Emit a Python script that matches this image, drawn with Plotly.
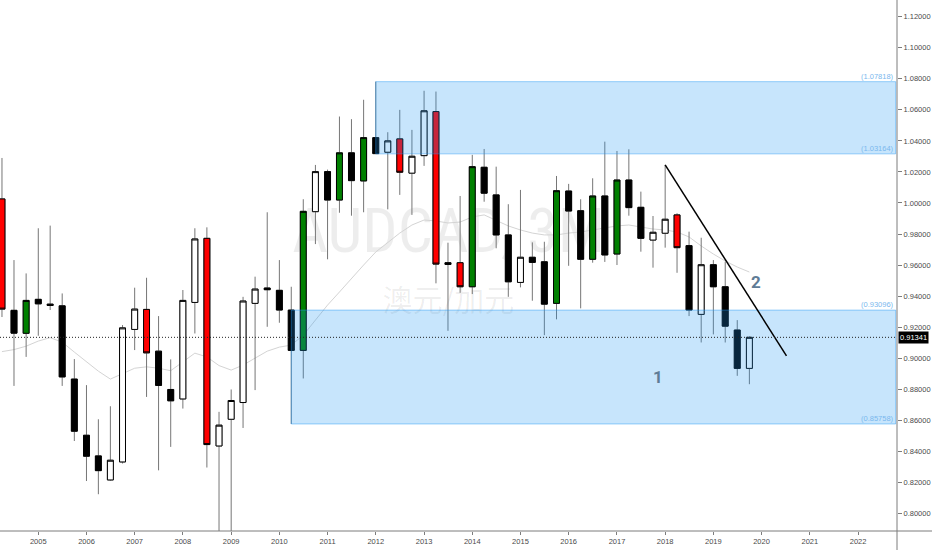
import pandas as pd
import plotly.graph_objects as go

# AUDCAD quarterly candles, 2004 Q2 .. 2019 Q4 (one row per year)
dates = pd.date_range("2004-04-01", periods=63, freq="QS")

opens = [
    1.0026, 0.9308, 0.9160,
    0.9379, 0.9348, 0.9337, 0.8865,
    0.8503, 0.8370, 0.8215, 0.8331,
    0.9185, 0.9314, 0.9045, 0.8798,
    0.8737, 0.9359, 0.9772, 0.8434,
    0.8606, 0.8714, 0.9353, 0.9452,
    0.9437, 0.93096, 0.9050, 0.9944,
    1.0202, 1.0019, 1.0323, 1.0142,
    1.0421, 1.0327, 1.0413, 1.0192,
    1.0305, 1.0589, 0.9615, 0.9615,
    0.9460, 1.0230, 1.0052, 0.9794,
    0.9488, 0.9650, 0.9621, 0.9353,
    1.0077, 0.9950, 0.9637, 1.0045,
    0.9671, 1.0148, 0.9972, 0.9761,
    0.9805, 0.9923, 0.9725, 0.9282,
    0.9602, 0.9460, 0.9181, 0.8934,
]
highs = [
    1.0290, 0.9632, 0.9546,
    0.9837, 0.9854, 0.9417, 0.8994,
    0.8826, 0.8606, 0.8690, 0.9213,
    0.9454, 0.9518, 0.9271, 0.8992,
    0.9439, 0.9837, 0.9843, 0.8654,
    0.8798, 0.9395, 0.9525, 0.9940,
    0.9632, 0.9460, 1.0024, 1.0245,
    1.0215, 1.0557, 1.0540, 1.0665,
    1.07818, 1.0456, 1.0600, 1.0471,
    1.0723, 1.0718, 0.9744, 1.0045,
    1.0310, 1.0348, 1.0234, 0.9992,
    1.0084, 0.9746, 0.9750, 1.0174,
    1.0123, 1.0024, 1.0159, 1.0395,
    1.0335, 1.0346, 1.0073, 0.9916,
    1.0245, 0.9934, 0.9815, 0.9776,
    0.9632, 0.9621, 0.9245, 0.9141,
]
lows = [
    0.9265, 0.8821, 0.9008,
    0.9144, 0.9310, 0.8821, 0.8466,
    0.8208, 0.8123, 0.8210, 0.8321,
    0.9052, 0.8750, 0.8277, 0.8428,
    0.8675, 0.9159, 0.8295, 0.7720,
    0.7800, 0.8550, 0.8794, 0.9202,
    0.9228, 0.85758, 0.8869, 0.9735,
    0.9637, 0.9937, 0.9918, 0.9940,
    1.03164, 0.9959, 1.0052, 0.9923,
    1.0239, 0.9482, 0.9176, 0.9421,
    0.9413, 1.0008, 0.9708, 0.9395,
    0.9456, 0.9370, 0.9148, 0.9250,
    0.9595, 0.9321, 0.9615, 0.9620,
    0.9600, 0.9918, 0.9686, 0.9583,
    0.9712, 0.9550, 0.9271, 0.9101,
    0.9153, 0.9101, 0.8886, 0.8832,
]
closes = [
    0.9316, 0.9161, 0.9372,
    0.9350, 0.9340, 0.8879, 0.8529,
    0.8368, 0.8275, 0.8342, 0.9195,
    0.9316, 0.9034, 0.8824, 0.8725,
    0.9372, 0.9768, 0.8443, 0.8568,
    0.8727, 0.9368, 0.9445, 0.9441,
    0.9310, 0.9050, 0.9946, 1.0202,
    1.0019, 1.0323, 1.0144, 1.0421,
    1.0318, 1.0400, 1.0198, 1.0301,
    1.0594, 0.9606, 0.9604, 0.9460,
    1.0234, 1.0063, 0.9794, 0.9492,
    0.9650, 0.9617, 0.9348, 1.0079,
    0.9948, 0.9637, 1.0045, 0.9665,
    1.0148, 0.9970, 0.9772, 0.9811,
    0.9895, 0.9712, 0.9310, 0.9602,
    0.9460, 0.9206, 0.8934, 0.91341,
]
# candle body style: w = hollow, k = black, g = green, r = red
styles = [
    "r", "k", "g",
    "k", "k", "k", "k",
    "k", "k", "w", "w",
    "w", "r", "k", "k",
    "w", "w", "r", "w",
    "w", "w", "w", "k",
    "k", "k", "g", "w",
    "k", "g", "k", "g",
    "k", "w", "r", "w",
    "w", "r", "k", "r",
    "g", "k", "k", "k",
    "w", "k", "k", "g",
    "k", "k", "g", "k",
    "g", "k", "k", "w",
    "w", "r", "k", "w",
    "k", "k", "k", "w",
]
# faint moving average line
ma = [
    0.9042, 0.9055, 0.9077,
    0.9110, 0.9132, 0.9103, 0.9039,
    0.8974, 0.8916, 0.8865, 0.8900,
    0.8935, 0.8944, 0.8935, 0.8919,
    0.8974, 0.9032, 0.9008, 0.8952,
    0.8923, 0.8955, 0.9000, 0.9045,
    0.9071, 0.9084, 0.9148, 0.9245,
    0.9342, 0.9426, 0.9516, 0.9600,
    0.9684, 0.9748, 0.9806, 0.9858,
    0.9890, 0.9884, 0.9871, 0.9877,
    0.9910, 0.9923, 0.9890, 0.9852,
    0.9826, 0.9806, 0.9794, 0.9794,
    0.9806, 0.9813, 0.9826, 0.9839,
    0.9852, 0.9858, 0.9845, 0.9832,
    0.9826, 0.9813, 0.9781, 0.9723,
    0.9671, 0.9626, 0.9587, 0.9555,
]

# drawings
zones = [("2012-01-01", 1.07818, 1.03164), ("2010-04-01", 0.93096, 0.85758)]
zone_end = "2022-10-13"
trend_x = ["2018-01-01", "2020-07-08"]
trend_y = [1.0245, 0.9015]
wave_labels = ["1", "2"]
wave_x = ["2017-11-07", "2019-11-23"]
wave_y = [0.8877, 0.9490]
last_price = closes[-1]

x_range = ["2004-03-17", "2022-10-23"]
y_range = [0.7886, 1.1308]

fill_cols = {"w": "#ffffff", "k": "#000000", "g": "#008000", "r": "#ff0000"}
axis_col = "#7d7d7d"
tick_font = dict(family="Liberation Sans, Arial, sans-serif", size=7.5, color="#4a4a4a")

fig = go.Figure()

# base axes: watermark and moving average (sit under the candles)
fig.add_trace(go.Scatter(
    x=["2013-07-05"], y=[0.9784], mode="text", text=["AUDCAD, 3M"],
    textfont=dict(family="Liberation Sans Narrow, Roboto Condensed, Roboto, sans-serif",
                  size=62, color="rgba(0,0,0,0.07)"),
    hoverinfo="skip"))
fig.add_trace(go.Scatter(
    x=["2013-07-05"], y=[0.9355], mode="text", text=["澳元/加元"],
    textfont=dict(family="Noto Sans CJK SC", size=30, color="rgba(0,0,0,0.07)"),
    hoverinfo="skip"))
fig.add_trace(go.Scatter(
    x=dates, y=ma, mode="lines", line=dict(color="#d4d4d4", width=1),
    hoverinfo="skip"))

# wicks (gray) for every candle
clear = "rgba(0,0,0,0)"
wick = dict(line=dict(color="#767676", width=1), fillcolor=clear)
fig.add_trace(go.Candlestick(
    x=dates, open=opens, high=highs, low=lows, close=closes,
    increasing=wick, decreasing=wick, xaxis="x2", yaxis="y2", hoverinfo="skip"))

# bodies, one trace per colour
for key, col in fill_cols.items():
    idx = [i for i, s in enumerate(styles) if s == key]
    o = [opens[i] for i in idx]
    c = [closes[i] for i in idx]
    body = dict(line=dict(color="#000000", width=1), fillcolor=col)
    fig.add_trace(go.Candlestick(
        x=[dates[i] for i in idx], open=o, close=c,
        high=[max(a, b) for a, b in zip(o, c)], low=[min(a, b) for a, b in zip(o, c)],
        increasing=body, decreasing=body, xaxis="x2", yaxis="y2", hoverinfo="skip"))

# zones
for x0, top, bottom in zones:
    fig.add_shape(type="rect", xref="x", yref="y", x0=x0, x1=zone_end, y0=bottom, y1=top,
                  fillcolor="rgba(33,150,243,0.25)",
                  line=dict(color="rgba(33,150,243,0.45)", width=1), layer="above")
    for v in (top, bottom):
        fig.add_annotation(x=zone_end, y=v, xref="x", yref="y", text=f"({v:.5f})",
                           showarrow=False, xanchor="right", yanchor="bottom", yshift=-1,
                           font=dict(family="Liberation Sans, Arial", size=7.5, color="#7ab8ee"))

# trend line
fig.add_shape(type="line", xref="x", yref="y", x0=trend_x[0], y0=trend_y[0],
              x1=trend_x[1], y1=trend_y[1], line=dict(color="#000000", width=1.5), layer="above")

# last price line + label
fig.add_shape(type="line", xref="paper", yref="y", x0=0, x1=1, y0=last_price, y1=last_price,
              line=dict(color="#222222", width=1, dash="1px,2px"), layer="above")
fig.add_annotation(x=1, y=last_price, xref="paper", yref="y", text=f"{last_price:.5f}",
                   showarrow=False, xanchor="left", xshift=1, bgcolor="#000000", borderpad=1,
                   font=dict(family="Liberation Sans, Arial", size=7.5, color="#ffffff"))

for t, xv, yv in zip(wave_labels, wave_x, wave_y):
    fig.add_annotation(x=xv, y=yv, xref="x", yref="y", text=f"<b>{t}</b>", showarrow=False,
                       font=dict(family="Roboto, sans-serif", size=17, color="#5f7c96"))

# pane separators running to the window edge
fig.add_shape(type="line", xref="paper", yref="paper", x0=0, x1=1.04, y0=0, y1=0,
              line=dict(color=axis_col, width=1))
fig.add_shape(type="line", xref="paper", yref="paper", x0=1, x1=1, y0=-0.04, y1=1,
              line=dict(color=axis_col, width=1))

fig.update_layout(
    width=932, height=550,
    margin=dict(l=0, r=35, t=0, b=19),
    paper_bgcolor="white", plot_bgcolor="white",
    showlegend=False,
    boxgap=0.5, boxgroupgap=0,
    xaxis=dict(type="date", range=x_range, tick0="2005-01-01", dtick="M12", tickformat="%Y",
               showgrid=False, zeroline=False, showline=False, ticks="outside", ticklen=3,
               tickcolor=axis_col, tickfont=tick_font, rangeslider=dict(visible=False)),
    yaxis=dict(side="right", range=y_range, tick0=0.8, dtick=0.02, tickformat=".5f",
               showgrid=False, zeroline=False, showline=False, ticks="outside", ticklen=4,
               tickcolor=axis_col, tickfont=tick_font),
    xaxis2=dict(type="date", range=x_range, overlaying="x", anchor="y2", visible=False,
                rangeslider=dict(visible=False)),
    yaxis2=dict(range=y_range, overlaying="y", anchor="x2", visible=False),
)

# the page's default body margin would push the figure off the window
fig.write_html("out.html", config={"displayModeBar": False},
               post_script="document.body.style.margin='0';")
